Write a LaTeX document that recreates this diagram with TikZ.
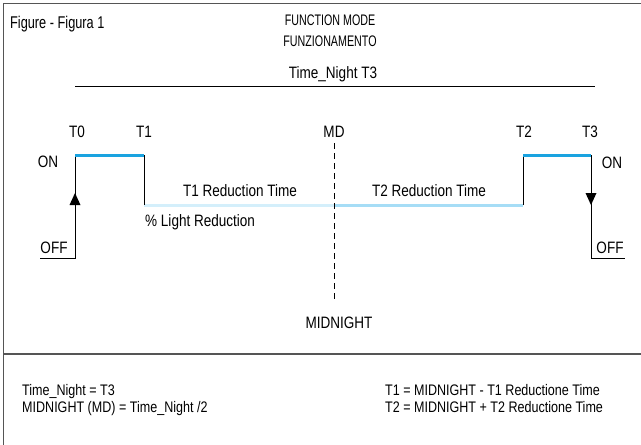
\documentclass[tikz,border=0pt]{standalone}
\usepackage{fontspec}
\setmainfont{Liberation Sans}[FakeStretch=0.82]
\newfontfamily\titlef{Liberation Sans}[FakeStretch=0.75]
\newfontfamily\hdrf{Liberation Sans}[FakeStretch=0.7]
\definecolor{frame}{HTML}{555555}
\definecolor{hi}{HTML}{1AA3E0}
\definecolor{lowA}{HTML}{D4EFFB}
\definecolor{lowB}{HTML}{A6DDF6}
\tikzset{
  lbl/.style={inner sep=0pt, font=\fontsize{16.5}{18}\selectfont},
  hdr/.style={inner sep=0pt, font=\hdrf\fontsize{15.3}{17}\selectfont},
  frm/.style={inner sep=0pt, font=\fontsize{15.3}{17}\selectfont},
  ttl/.style={inner sep=0pt, font=\titlef\fontsize{17}{19}\selectfont},
  wire/.style={line width=1pt, black},
  high/.style={line width=3pt, hi},
  tri/.style={fill=black, draw=none},
}
\begin{document}
\begin{tikzpicture}[x=1pt,y=-1pt]
\useasboundingbox (0,0) rectangle (641,445);
% frame
\draw[frame, line width=1.5pt] (641,3.5) -- (3.5,3.5) -- (3.5,445);
\draw[frame, line width=1.5pt] (3.5,354) -- (641,354);
% titles
\node[ttl, anchor=base west] (fig) at (10,28) {Figure - Figura 1};
\node[hdr, anchor=base] (fm) at (330,25) {FUNCTION MODE};
\node[hdr, anchor=base] (fz) at (330,46) {FUNZIONAMENTO};
\node[lbl, anchor=base] (tn) at (333,78) {Time\_Night T3};
\coordinate (tnl) at (75,86);
\coordinate (tnr) at (595,86);
\draw[wire] (tnl) -- (tnr);
% waveform points
\coordinate (offL) at (40,258);
\coordinate (a0) at (75,258);
\coordinate (a1) at (75,155);
\coordinate (b1) at (144,155);
\coordinate (b0) at (144,205);
\coordinate (md) at (334,205);
\coordinate (c0) at (523,205);
\coordinate (c1) at (523,155);
\coordinate (d1) at (591,155);
\coordinate (d0) at (591,258);
\coordinate (offR) at (625,258);
\coordinate (mdt) at (334,143);
\coordinate (mdb) at (334,300);
% low lines
\draw[lowA, line width=3pt] (b0) -- (md);
\draw[lowB, line width=3pt] (md) -- (c0);
% black wires
\draw[wire] (offL) -- (a0) -- (a1);
\draw[wire] (b1) -- (b0);
\draw[wire] (c0) -- (c1);
\draw[wire] (d1) -- (d0) -- (offR);
% high lines
\draw[high] (a1) -- (b1);
\draw[high] (c1) -- (d1);
% arrows
\fill[tri] (75,193) -- (69.5,205) -- (80.5,205) -- cycle;
\fill[tri] (591,205) -- (585.5,193) -- (596.5,193) -- cycle;
% midnight dashed
\draw[black, line width=1pt, dash pattern=on 6pt off 4pt] (mdt) -- (mdb);
% labels
\node[lbl, anchor=base] (t0) at (77,137) {T0};
\node[lbl, anchor=base] (t1) at (144,137) {T1};
\node[lbl, anchor=base] (mdl) at (334,137) {MD};
\node[lbl, anchor=base] (t2) at (524,137) {T2};
\node[lbl, anchor=base] (t3) at (590,137) {T3};
\node[lbl, anchor=base] (onL) at (48,167) {ON};
\node[lbl, anchor=base] (offLl) at (54,253) {OFF};
\node[lbl, anchor=base] (onR) at (612,168) {ON};
\node[lbl, anchor=base] (offRl) at (610,253) {OFF};
\node[lbl, anchor=base] (r1) at (240,196) {T1 Reduction Time};
\node[lbl, anchor=base] (r2) at (429,196) {T2 Reduction Time};
\node[lbl, anchor=base west] (lr) at (145,226) {\% Light Reduction};
\node[lbl, anchor=base] (mid) at (339,328) {MIDNIGHT};
% formulas
\node[frm, anchor=base west] (f1) at (22,395) {Time\_Night = T3};
\node[frm, anchor=base west] (f2) at (22,412) {MIDNIGHT (MD) = Time\_Night /2};
\node[frm, anchor=base west] (f3) at (385,395) {T1 = MIDNIGHT - T1 Reductione Time};
\node[frm, anchor=base west] (f4) at (385,412) {T2 = MIDNIGHT + T2 Reductione Time};
\end{tikzpicture}
\end{document}
